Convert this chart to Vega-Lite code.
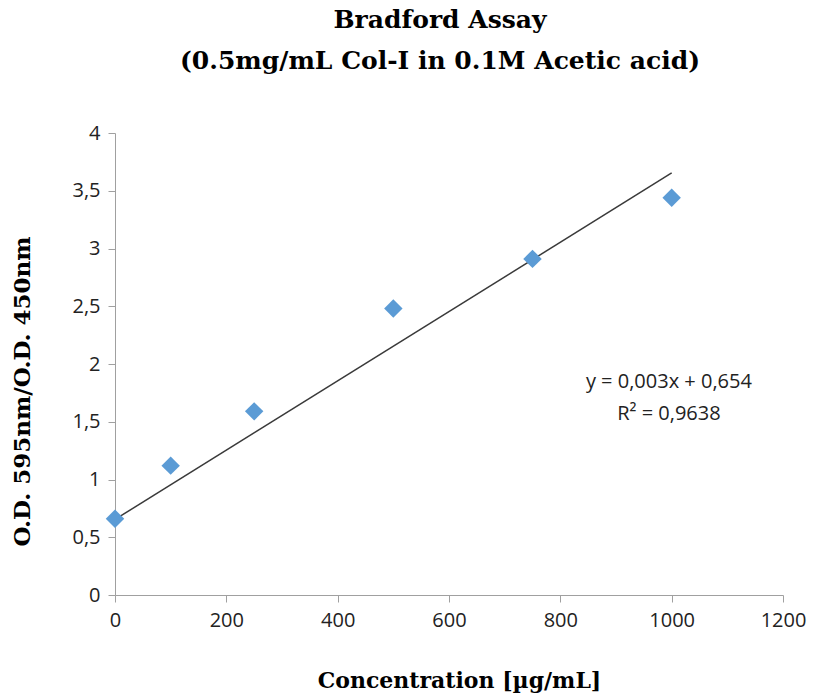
{
  "$schema": "https://vega.github.io/schema/vega-lite/v6.json",
  "autosize": "none",
  "width": 668,
  "height": 462,
  "padding": {"left": 115, "top": 133, "right": 31, "bottom": 104},
  "background": "white",
  "config": {"view": {"stroke": null}},
  "title": {
    "text": ["Bradford Assay", "(0.5mg/mL Col-I in 0.1M Acetic acid)"],
    "font": "DejaVu Serif",
    "fontSize": 25,
    "fontWeight": "bold",
    "color": "#000000",
    "anchor": "middle",
    "frame": "group",
    "dx": -9,
    "offset": 49,
    "lineHeight": 41
  },
  "datasets": {
    "points": [
      {"conc": 0, "od": 0.66},
      {"conc": 100, "od": 1.12},
      {"conc": 250, "od": 1.59},
      {"conc": 500, "od": 2.48},
      {"conc": 750, "od": 2.91},
      {"conc": 1000, "od": 3.44}
    ],
    "trend": [
      {"conc": 0, "od": 0.654},
      {"conc": 1000, "od": 3.654}
    ]
  },
  "layer": [
    {
      "data": {"name": "trend"},
      "mark": {"type": "line", "color": "#3a3a3a", "strokeWidth": 1.5},
      "encoding": {
        "x": {
          "field": "conc", "type": "quantitative",
          "scale": {"domain": [0, 1200], "nice": false},
          "axis": {
            "values": [0, 200, 400, 600, 800, 1000, 1200],
            "format": "d",
            "labelFlush": false,
            "grid": false,
            "domainColor": "#a0a0a0",
            "tickColor": "#a0a0a0",
            "tickSize": 7,
            "labelFont": "Open Sans",
            "labelFontSize": 20,
            "labelColor": "#222222",
            "labelPadding": 8,
            "title": "Concentration [µg/mL]",
            "titleFont": "DejaVu Serif",
            "titleFontSize": 22,
            "titleFontWeight": "bold",
            "titleColor": "#000000",
            "titleX": 344,
            "titleY": 85,
            "titleBaseline": "middle"
          }
        },
        "y": {
          "field": "od", "type": "quantitative",
          "scale": {"domain": [0, 4], "nice": false},
          "axis": {
            "values": [0, 0.5, 1, 1.5, 2, 2.5, 3, 3.5, 4],
            "labelExpr": "replace(format(datum.value, ''), '.', ',')",
            "labelFlush": false,
            "grid": false,
            "domainColor": "#a0a0a0",
            "tickColor": "#a0a0a0",
            "tickSize": 7,
            "labelFont": "Open Sans",
            "labelFontSize": 20,
            "labelColor": "#222222",
            "labelPadding": 8,
            "title": "O.D. 595nm/O.D. 450nm",
            "titleFont": "DejaVu Serif",
            "titleFontSize": 23,
            "titleFontWeight": "bold",
            "titleColor": "#000000",
            "titleX": -93,
            "titleY": 258,
            "titleAngle": -90,
            "titleBaseline": "middle",
            "titleAlign": "center"
          }
        }
      }
    },
    {
      "data": {"name": "points"},
      "mark": {"type": "point", "shape": "diamond", "filled": true, "color": "#5b9bd5", "size": 340, "opacity": 1},
      "encoding": {
        "x": {"field": "conc", "type": "quantitative"},
        "y": {"field": "od", "type": "quantitative"}
      }
    },
    {
      "data": {"values": [{"label": ["y = 0,003x + 0,654", "R² = 0,9638"]}]},
      "mark": {"type": "text", "font": "Open Sans", "fontSize": 20, "color": "#222222", "align": "center", "baseline": "middle", "lineHeight": 32},
      "encoding": {
        "x": {"datum": 995},
        "y": {"datum": 1.84},
        "text": {"field": "label"}
      }
    }
  ]
}
